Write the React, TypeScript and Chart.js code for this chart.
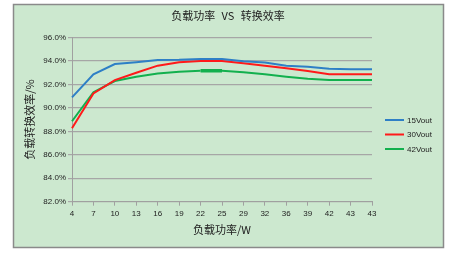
import React, { useEffect, useRef } from "react";
import { Chart, registerables } from "chart.js";

Chart.register(...registerables);

const categories = ["4", "7", "10", "13", "16", "19", "22", "25", "29", "32", "36", "39", "42", "43", "43"];
const seriesNames = ["15Vout", "30Vout", "42Vout"];
const v15 = [90.9, 92.86, 93.74, 93.9, 94.09, 94.1, 94.17, 94.17, 93.97, 93.86, 93.6, 93.5, 93.34, 93.3, 93.3];
const v30 = [88.26, 91.23, 92.37, 93.0, 93.6, 93.89, 94.0, 94.0, 93.8, 93.6, 93.37, 93.14, 92.86, 92.86, 92.86];
const v42 = [88.86, 91.34, 92.29, 92.66, 92.94, 93.09, 93.17, 93.17, 93.03, 92.86, 92.66, 92.49, 92.37, 92.37, 92.37];
const yTicks = [82, 84, 86, 88, 90, 92, 94, 96];
const titleText = "负载功率 VS 转换效率";
const xTitle = "负载功率/W";
const yTitle = "负载转换效率/%";

const colors = ["#2E7FC6", "#FF1A1A", "#12B04E"];
const CJK = "'Noto Sans CJK SC', sans-serif";
const LAT = "'Liberation Sans', Arial, sans-serif";

const framePlugin = {
  id: "frame",
  beforeDraw(chart: any) {
    const ctx = chart.ctx;
    ctx.save();
    ctx.fillStyle = "#CCE8CF";
    ctx.fillRect(13, 4, 431, 244);
    ctx.strokeStyle = "#8A8A8A";
    ctx.lineWidth = 1.5;
    ctx.strokeRect(13.5, 4.5, 430, 243);
    ctx.restore();
  },
  afterDraw(chart: any) {
    const ctx = chart.ctx;
    ctx.save();
    ctx.fillStyle = "#222";
    ctx.font = `11px ${CJK}`;
    ctx.textAlign = "center";
    ctx.textBaseline = "middle";
    try { (ctx as any).wordSpacing = "4px"; } catch (e) {}
    ctx.fillText(titleText, 228, 16);
    try { (ctx as any).wordSpacing = "0px"; } catch (e) {}
    // legend
    const ys = [120, 134.5, 149];
    chart.data.datasets.forEach((ds: any, i: number) => {
      ctx.strokeStyle = ds.borderColor;
      ctx.lineWidth = 2;
      ctx.beginPath();
      ctx.moveTo(385, ys[i]);
      ctx.lineTo(404, ys[i]);
      ctx.stroke();
      ctx.fillStyle = "#222";
      ctx.font = `8px ${LAT}`;
      ctx.textAlign = "left";
      ctx.fillText(ds.label, 407, ys[i] + 0.5);
    });
    ctx.restore();
  },
};

export default function App() {
  const ref = useRef<HTMLCanvasElement>(null);
  useEffect(() => {
    document.body.style.margin = "0";
    const chart = new Chart(ref.current!, {
      type: "line",
      data: {
        labels: categories,
        datasets: [v15, v30, v42].map((d, i) => ({
          label: seriesNames[i],
          data: d,
          borderColor: colors[i],
          backgroundColor: colors[i],
          borderWidth: 2,
          pointRadius: 0,
          tension: 0,
          segment: i === 2 ? { borderWidth: (c: any) => (c.p0DataIndex === 6 ? 3.5 : 2) } : undefined,
        })),
      },
      plugins: [framePlugin],
      options: {
        animation: false,
        responsive: false,
        devicePixelRatio: 1,
        layout: { padding: { left: 13, right: 94, top: 37.5, bottom: 0 } },
        plugins: { legend: { display: false }, title: { display: false }, tooltip: { enabled: false } },
        scales: {
          x: {
            type: "category",
            offset: false,
            afterFit: (s: any) => { s.height = 55.3; },
            grid: { drawOnChartArea: false, drawTicks: true, tickLength: 4, color: "#A0A0A0" },
            border: { color: "#A0A0A0", width: 1 },
            ticks: { color: "#222", font: { family: LAT, size: 8 }, padding: 3, maxRotation: 0, autoSkip: false },
            title: { display: true, text: xTitle, color: "#222", font: { family: CJK, size: 11 }, padding: { top: 4, bottom: 21 } },
          },
          y: {
            min: 82,
            max: 96,
            afterFit: (s: any) => { s.width = 59; },
            afterBuildTicks: (s: any) => { s.ticks = yTicks.map((v) => ({ value: v })); },
            grid: { color: "#A6A6A6", lineWidth: 1.2, drawTicks: true, tickLength: 4 },
            border: { color: "#A0A0A0", width: 1 },
            ticks: { color: "#222", font: { family: LAT, size: 8 }, padding: 2, callback: (v: any) => Number(v).toFixed(1) + "%" },
            title: { display: true, text: yTitle, color: "#222", font: { family: CJK, size: 11 }, padding: { top: 10, bottom: 0 } },
          },
        },
      },
    });
    return () => chart.destroy();
  }, []);
  return <canvas ref={ref} width={466} height={257} style={{ display: "block" }} />;
}
